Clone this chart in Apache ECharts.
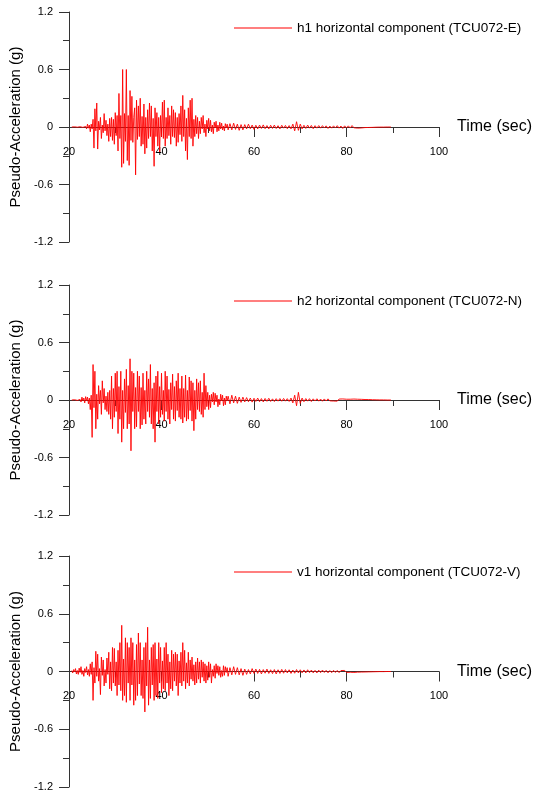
<!DOCTYPE html>
<html style="height: 100%">
<head>
	<meta charset="utf-8">
	<script src="https://cdn.jsdelivr.net/npm/echarts@6/dist/echarts.min.js"></script>
</head>
<body style="height: 100%; margin: 0; background: #fff">
<div id="container" style="width: 536px; height: 795px"></div>
<script type="text/javascript">
    // tick labels
    var xTicks = [20, 40, 60, 80, 100];
    var yTicks = [-1.2, -0.6, 0, 0.6, 1.2];
    var names = ['h1 horizontal component (TCU072-E)', 'h2 horizontal component (TCU072-N)', 'v1 horizontal component (TCU072-V)'];

    // strong-motion part: starts at 20.6 s, one value every 0.2 s
    var strongStart = 20.6, strongStep = 0.2;
    // coda part: starts at 54.8 s, one value every 0.4 s
    var codaStart = 54.8, codaStep = 0.4;

    var h1Strong = [
        0, 0.004, -0.003, 0.002, -0.006, 0.005, -0.002, 0.008, -0.006, 0.003,
        -0.008, 0.012, -0.004, 0.01, -0.015, 0.006, -0.02, 0.03, -0.012, 0.02,
        -0.05, 0.03, -0.02, 0.08, -0.22, 0.19, -0.04, 0.25, -0.23, 0.06,
        -0.03, 0.1, -0.12, 0.02, -0.06, 0.14, -0.04, 0.07, -0.09, 0.03,
        -0.15, 0.09, -0.1, 0.1, -0.14, 0.08, -0.18, 0.15, -0.09, 0.12,
        -0.25, 0.35, -0.12, 0.12, -0.42, 0.6, -0.38, 0.14, -0.15, 0.6,
        -0.35, 0.12, -0.4, 0.38, -0.14, 0.32, -0.16, 0.1, 0.2, -0.5,
        0.28, -0.13, 0.22, -0.1, 0.3, -0.2, 0.11, -0.18, 0.24, -0.28,
        0.1, -0.22, 0.18, -0.12, 0.25, -0.1, 0.22, -0.25, 0.09, -0.41,
        0.2, -0.1, 0.15, -0.2, 0.1, -0.26, 0.12, -0.1, 0.26, -0.12,
        0.28, -0.2, 0.1, -0.12, 0.2, -0.09, 0.12, -0.18, 0.22, -0.1,
        0.18, -0.11, 0.15, -0.2, 0.1, -0.16, 0.14, -0.08, 0.22, -0.15,
        0.33, -0.1, 0.18, -0.25, 0.09, -0.34, 0.2, -0.1, 0.28, -0.12,
        0.3, -0.2, 0.08, -0.1, 0.12, -0.07, 0.1, -0.12, 0.06, -0.07,
        0.1, -0.02, 0.12, -0.06, 0.03, -0.1, 0.07, -0.02, 0.09, -0.04,
        0.07, -0.05, 0.02, -0.07, 0.05, -0.01, 0.06, -0.05, 0.02, -0.04,
        0.05, -0.02, 0.04, -0.03, 0.01, -0.04, 0.035, -0.01, 0.03, -0.03
    ];
    var h1Coda = [
        0.035, -0.03, 0.04, -0.025, 0.03, -0.035, 0.025, -0.03,
        0.025, -0.02, 0.03, -0.018, 0.02, -0.025, 0.018, -0.02,
        0.02, -0.015, 0.022, -0.018, 0.015, -0.02, 0.018, -0.015,
        0.02, -0.016, 0.014, -0.02, 0.018, -0.012, 0.016, -0.018,
        0.015, -0.02, 0.03, -0.04, 0.055, -0.035, 0.03, -0.02,
        0.018, -0.015, 0.02, -0.012, 0.016, -0.018, 0.014, -0.012,
        0.015, -0.012, 0.014, -0.01, 0.012, -0.015, 0.01, -0.012,
        0.012, -0.01, 0.014, -0.012, 0.01, -0.015, 0.012, -0.01,
        0.012, -0.01, 0.015, -0.008, 0.01, -0.012, 0.008, -0.01,
        0.008, -0.006, 0.007, -0.005, 0.004, -0.004, 0.003, -0.002,
        0.002, -0.001, 0.001, -0.001, 0.001, 0, 0, 0
    ];

    var h2Strong = [
        0, 0.004, -0.006, 0.003, -0.01, 0.012, -0.004, 0.01, -0.015, 0.006,
        -0.02, 0.03, -0.008, 0.02, -0.03, 0.035, -0.01, 0.03, -0.04, 0.02,
        -0.1, 0.05, -0.39, 0.37, -0.08, 0.3, -0.3, 0.06, -0.2, 0.15,
        -0.04, 0.1, -0.15, 0.2, -0.03, 0.12, -0.1, 0.04, -0.12, 0.08,
        -0.15, 0.1, -0.2, 0.25, -0.3, 0.12, -0.18, 0.28, -0.12, 0.3,
        -0.35, 0.14, -0.2, 0.3, -0.44, 0.1, -0.3, 0.22, -0.13, 0.32,
        -0.3, 0.15, -0.25, 0.43, -0.53, 0.3, -0.12, 0.28, -0.3, 0.13,
        -0.28, 0.3, -0.12, 0.25, -0.3, 0.13, -0.26, 0.28, -0.2, 0.1,
        -0.25, 0.3, -0.12, 0.22, -0.18, 0.37, -0.25, 0.12, -0.3, 0.18,
        -0.44, 0.25, -0.12, 0.3, -0.25, 0.14, -0.18, 0.28, -0.15, 0.1,
        -0.22, 0.3, -0.12, 0.25, -0.2, 0.11, -0.25, 0.18, -0.1, 0.27,
        -0.2, 0.14, -0.22, 0.2, -0.11, 0.28, -0.18, 0.12, -0.2, 0.25,
        -0.24, 0.12, -0.18, 0.26, -0.22, 0.1, -0.2, 0.24, -0.11, 0.2,
        -0.22, 0.18, -0.32, 0.1, -0.2, 0.22, -0.1, 0.18, -0.12, 0.2,
        -0.15, 0.08, -0.18, 0.28, -0.1, 0.15, -0.07, 0.08, -0.1, 0.05,
        -0.08, 0.06, -0.02, 0.08, -0.05, 0.07, -0.02, 0.05, -0.07, 0.01,
        -0.05, 0.06, -0.01, 0.05, -0.06, 0.02, -0.05, 0.04, -0.01, 0.04
    ];
    var h2Coda = [
        -0.04, 0.05, -0.03, 0.04, -0.035, 0.03, -0.025, 0.03,
        -0.02, 0.025, -0.018, 0.02, -0.022, 0.018, -0.015, 0.02,
        -0.018, 0.015, -0.02, 0.016, -0.014, 0.018, -0.015, 0.012,
        -0.016, 0.014, -0.012, 0.015, -0.013, 0.016, -0.012, 0.014,
        -0.015, 0.02, -0.03, 0.05, -0.06, 0.08, -0.035, 0.02,
        -0.018, 0.015, -0.012, 0.014, -0.016, 0.012, -0.01, 0.013,
        -0.012, 0.01, -0.013, 0.011, -0.01, 0.012, -0.009, 0.01,
        -0.011, 0.009, -0.012, 0.01, -0.008, 0.011, -0.009, 0.008,
        -0.01, 0.008, -0.009, 0.01, -0.007, 0.008, -0.006, 0.007,
        -0.006, 0.005, -0.004, 0.005, -0.003, 0.003, -0.002, 0.002,
        -0.001, 0.001, -0.001, 0.001, 0, 0, 0, 0
    ];

    var v1Strong = [
        0.01, -0.015, 0.02, -0.005, 0.03, -0.025, 0.01, -0.03, 0.035, -0.01,
        0.05, -0.03, 0.01, -0.05, 0.03, -0.01, 0.05, -0.035, 0.02, -0.05,
        0.08, -0.03, 0.1, -0.3, 0.04, -0.12, 0.21, -0.05, 0.18, -0.1,
        0.03, -0.24, 0.15, -0.04, 0.12, -0.15, 0.02, -0.12, 0.14, -0.03,
        0.2, -0.18, 0.1, -0.2, 0.25, -0.12, 0.24, -0.15, 0.1, -0.25,
        0.22, -0.14, 0.3, -0.2, 0.48, -0.3, 0.13, -0.25, 0.35, -0.32,
        0.3, -0.12, 0.25, -0.3, 0.35, -0.14, 0.3, -0.35, 0.12, -0.3,
        0.28, -0.25, 0.4, -0.13, 0.3, -0.25, 0.12, -0.28, 0.25, -0.42,
        0.3, -0.15, 0.46, -0.35, 0.12, -0.28, 0.25, -0.14, 0.28, -0.3,
        0.3, -0.25, 0.13, -0.28, 0.3, -0.12, 0.25, -0.22, 0.11, -0.18,
        0.25, -0.2, 0.3, -0.12, 0.18, -0.25, 0.1, -0.18, 0.22, -0.2,
        0.18, -0.1, 0.2, -0.15, 0.18, -0.25, 0.11, -0.12, 0.2, -0.15,
        0.3, -0.1, 0.22, -0.18, 0.09, -0.12, 0.2, -0.15, 0.12, -0.08,
        0.15, -0.1, 0.07, -0.14, 0.1, -0.12, 0.14, -0.08, 0.1, -0.12,
        0.12, -0.06, 0.1, -0.1, 0.08, -0.12, 0.06, -0.09, 0.1, -0.06,
        0.08, -0.12, 0.02, -0.05, 0.06, -0.07, 0.08, -0.02, 0.06, -0.04,
        0.05, -0.06, 0.01, -0.05, 0.06, -0.04, 0.05, -0.01, 0.04, -0.05
    ];
    var v1Coda = [
        0.04, -0.035, 0.05, -0.03, 0.04, -0.035, 0.03, -0.04,
        0.025, -0.03, 0.02, -0.025, 0.03, -0.02, 0.025, -0.02,
        0.022, -0.025, 0.02, -0.018, 0.025, -0.02, 0.018, -0.022,
        0.02, -0.025, 0.018, -0.02, 0.022, -0.018, 0.02, -0.015,
        0.018, -0.02, 0.015, -0.018, 0.02, -0.015, 0.018, -0.014,
        0.016, -0.015, 0.018, -0.012, 0.015, -0.014, 0.012, -0.015,
        0.014, -0.012, 0.015, -0.01, 0.012, -0.014, 0.01, -0.012,
        0.012, -0.01, 0.011, -0.012, 0.01, -0.009, 0.011, -0.01,
        0.01, -0.008, 0.009, -0.01, 0.008, -0.007, 0.008, -0.006,
        0.006, -0.005, 0.006, -0.004, 0.005, -0.003, 0.003, -0.002,
        0.002, -0.001, 0.001, -0.001, 0, 0, 0, 0
    ];

    function toPairs(strong, coda) {
        var out = [];
        strong.forEach(function (v, i) {
            out.push([+(strongStart + i * strongStep).toFixed(2), v]);
        });
        coda.forEach(function (v, i) {
            out.push([+(codaStart + i * codaStep).toFixed(2), v]);
        });
        return out;
    }
    var records = [toPairs(h1Strong, h1Coda), toPairs(h2Strong, h2Coda), toPairs(v1Strong, v1Coda)];

    var font = "'Liberation Sans', Arial, sans-serif";
    var axisColor = '#333';
    var red = '#ff0000';
    var tops = [12, 285, 556];
    var heights = [230, 230, 231];

    var grids = [], xAxes = [], yAxes = [], series = [], legends = [];
    for (var k = 0; k < 3; k++) {
        grids.push({ left: 69, width: 370, top: tops[k], height: heights[k] });
        xAxes.push({
            gridIndex: k,
            type: 'value',
            min: xTicks[0],
            max: xTicks[xTicks.length - 1],
            interval: 20,
            position: 'bottom',
            offset: -heights[k] / 2,   // sits on y = 0 (symmetric y range)
            name: 'Time (sec)',
            nameLocation: 'end',
            nameGap: 18,
            nameTextStyle: { fontFamily: font, fontSize: 16, color: '#000', padding: [6, 0, 0, 0] },
            axisLine: { onZero: false, lineStyle: { color: axisColor, width: 1 } },
            axisTick: { show: true, inside: false, length: 10, lineStyle: { color: axisColor } },
            minorTick: { show: true, splitNumber: 2, length: 6, lineStyle: { color: axisColor } },
            axisLabel: { margin: 19, fontFamily: font, fontSize: 11, color: '#000' },
            splitLine: { show: false },
            minorSplitLine: { show: false }
        });
        yAxes.push({
            gridIndex: k,
            type: 'value',
            min: yTicks[0],
            max: yTicks[yTicks.length - 1],
            interval: 0.6,
            name: 'Pseudo-Acceleration (g)',
            nameLocation: 'middle',
            nameRotate: 90,
            nameGap: 38,
            nameTextStyle: { fontFamily: font, fontSize: 15, color: '#000' },
            axisLine: { show: true, onZero: false, lineStyle: { color: axisColor, width: 1 } },
            axisTick: { show: true, inside: false, length: 10, lineStyle: { color: axisColor } },
            minorTick: { show: true, splitNumber: 2, length: 6, lineStyle: { color: axisColor } },
            axisLabel: { margin: 16, fontFamily: font, fontSize: 11, color: '#000' },
            splitLine: { show: false },
            minorSplitLine: { show: false }
        });
        series.push({
            name: names[k],
            type: 'line',
            xAxisIndex: k,
            yAxisIndex: k,
            data: records[k],
            showSymbol: false,
            sampling: null,
            lineStyle: { color: red, width: 0.9 },
            itemStyle: { color: red }
        });
        legends.push({
            data: [names[k]],
            left: 234,
            top: tops[k] + 9,
            padding: 0,
            icon: 'rect',
            itemWidth: 58,
            itemHeight: 1,
            itemStyle: { color: red, borderWidth: 0 },
            lineStyle: { color: red },
            textStyle: { fontFamily: font, fontSize: 13.5, color: '#000' }
        });
    }

    var dom = document.getElementById("container");
    var myChart = echarts.init(dom);
    var option = {
        backgroundColor: '#fff',
        animation: false,
        legend: legends,
        grid: grids,
        xAxis: xAxes,
        yAxis: yAxes,
        series: series
    };
    myChart.setOption(option, true);
</script>
</body>
</html>
